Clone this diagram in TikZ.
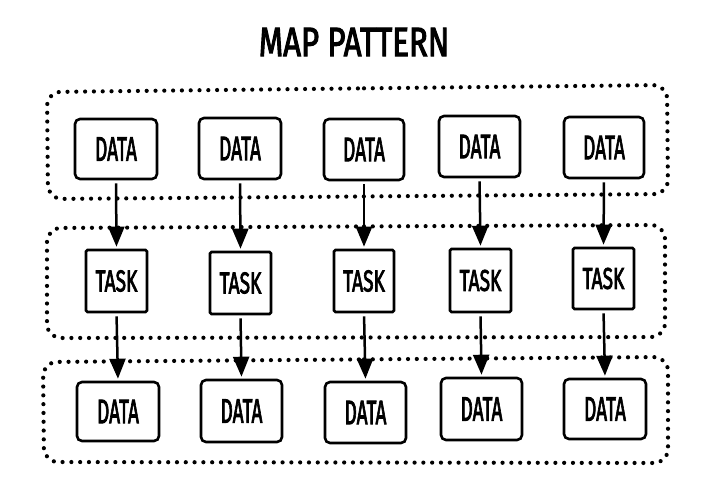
\documentclass[tikz,border=0pt]{standalone}
\usepackage{fontspec}
\usepackage{graphicx}
\setmainfont{Fira Sans}
\newfontfamily\handfont{Fira Sans}[FakeBold=3]
\usetikzlibrary{arrows.meta}
\newcommand{\datatxt}{\scalebox{0.56}[1]{\fontsize{34}{34}\handfont DATA}}
\newcommand{\tasktxt}{\scalebox{0.64}[1]{\fontsize{30}{30}\handfont TASK}}
\begin{document}
\begin{tikzpicture}[x=1pt,y=-1pt,
  databox/.style={draw, line width=2.6pt, rounded corners=5pt, inner sep=0pt, minimum width=81pt, minimum height=60pt},
  taskbox/.style={draw, line width=2.6pt, rounded corners=1.5pt, inner sep=0pt, minimum width=60pt, minimum height=61pt},
  flow/.style={line width=2.5pt, -{Triangle[length=20pt,width=16pt]}, shorten <=3pt, shorten >=2pt},
  dotgroup/.style={line width=4.2pt, line cap=round, dash pattern=on 0pt off 8.8pt, rounded corners=14pt}]
\useasboundingbox (0,0) rectangle (703,487);
\fill[white] (0,0) rectangle (703,487);

\node[inner sep=0pt] (title) at (354,42) {\scalebox{0.8}[1.05]{\fontsize{39}{39}\handfont MAP PATTERN}};

% dotted groups
\draw[dotgroup] (350,88.5) -- (667,85) -- (668,194) -- (48,199) -- (47,92) -- cycle;
\draw[dotgroup] (350,226.5) -- (665,225) -- (665,337) -- (47,338) -- (47,228) -- cycle;
\draw[dotgroup] (350,359.5) -- (668,357) -- (668,463) -- (44,462) -- (43,362) -- cycle;

% top data
\node[databox, minimum width=82pt, minimum height=60pt] (d1) at (116,149) {\datatxt};
\node[databox, minimum width=82pt, minimum height=61pt] (d2) at (240,148.5) {\datatxt};
\node[databox, minimum width=80pt, minimum height=61pt] (d3) at (364,149.5) {\datatxt};
\node[databox, minimum width=81pt, minimum height=61pt] (d4) at (479.5,146.5) {\datatxt};
\node[databox, minimum width=80pt, minimum height=61pt] (d5) at (604,147.5) {\datatxt};

% tasks
\node[taskbox, minimum width=61pt, minimum height=62pt] (t1) at (116.5,281) {\tasktxt};
\node[taskbox, minimum width=61pt, minimum height=62pt] (t2) at (240.5,283) {\tasktxt};
\node[taskbox, minimum width=60pt, minimum height=62pt] (t3) at (364,281) {\tasktxt};
\node[taskbox, minimum width=61pt, minimum height=63pt] (t4) at (480.5,280.5) {\tasktxt};
\node[taskbox, minimum width=61pt, minimum height=61pt] (t5) at (603.5,278.5) {\tasktxt};

% bottom data
\node[databox, minimum width=82pt, minimum height=59pt] (b1) at (118,411.5) {\datatxt};
\node[databox, minimum width=81pt, minimum height=62pt] (b2) at (241.5,411) {\datatxt};
\node[databox, minimum width=81pt, minimum height=61pt] (b3) at (365.5,412.5) {\datatxt};
\node[databox, minimum width=81pt, minimum height=62pt] (b4) at (481.5,409) {\datatxt};
\node[databox, minimum width=82pt, minimum height=60pt] (b5) at (605,409) {\datatxt};

% arrows
\foreach \i in {1,...,5} {
  \draw[flow] (d\i.south) -- (t\i.north);
  \draw[flow] (t\i.south) -- (b\i.north);
}
\end{tikzpicture}
\end{document}
